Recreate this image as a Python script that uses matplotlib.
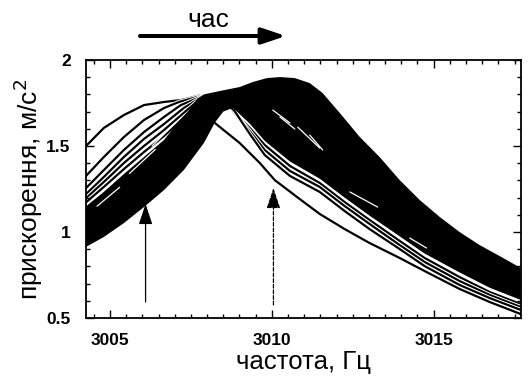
import numpy as np
import matplotlib
matplotlib.use("Agg")
import matplotlib.pyplot as plt
import matplotlib.patheffects as pe
from matplotlib.ticker import MultipleLocator

plt.rcParams['font.family'] = ['Liberation Sans', 'DejaVu Sans']

# --- data (frequency in Hz, acceleration in m/s^2) ---

# dense band of curves: top edge and bottom edge
band_top_f = [3004.20, 3004.81, 3005.43, 3006.05, 3006.67, 3007.05, 3007.40, 3007.70,
              3007.90, 3008.40, 3009.01, 3009.41, 3009.85, 3010.25, 3010.71, 3011.17,
              3011.57, 3012.10, 3012.72, 3013.33, 3013.95, 3014.57, 3015.19, 3015.80,
              3016.42, 3017.04, 3017.69]
band_top_a = [1.140, 1.233, 1.337, 1.436, 1.535, 1.625, 1.700, 1.775,
              1.800, 1.820, 1.843, 1.872, 1.895, 1.901, 1.895, 1.866,
              1.808, 1.692, 1.552, 1.436, 1.302, 1.186, 1.087, 1.000,
              0.924, 0.860, 0.791]
band_bot_f = [3004.20, 3004.81, 3005.43, 3006.05, 3006.67, 3007.28, 3007.90, 3008.24,
              3008.50, 3008.80, 3009.32, 3009.78, 3010.56, 3011.48, 3012.25, 3013.02,
              3013.95, 3014.72, 3015.80, 3016.73, 3017.69]
band_bot_a = [0.907, 0.971, 1.052, 1.145, 1.244, 1.360, 1.517, 1.636,
              1.700, 1.722, 1.630, 1.530, 1.410, 1.310, 1.200, 1.095,
              0.975, 0.875, 0.765, 0.676, 0.605]

# separate early curves on the left
left_f = [3004.20, 3004.81, 3005.43, 3006.05, 3006.67]
curve_a_f = [3004.26, 3004.81, 3005.43, 3006.05, 3006.67, 3007.19, 3007.80]
curve_a = [1.500, 1.605, 1.680, 1.738, 1.756, 1.767, 1.795]
curve_b_f = left_f + [3007.13, 3007.80]
curve_b = [1.314, 1.436, 1.552, 1.651, 1.721, 1.756, 1.790]
curve_c_f = left_f + [3007.19, 3007.80]
curve_c = [1.244, 1.360, 1.477, 1.581, 1.669, 1.738, 1.785]
curve_d_f = left_f + [3007.28, 3007.80]
curve_d = [1.209, 1.320, 1.436, 1.541, 1.628, 1.721, 1.780]
curve_e_f = left_f + [3007.38, 3007.80]
curve_e = [1.186, 1.291, 1.401, 1.500, 1.593, 1.709, 1.775]
curve_f_f = left_f + [3007.47, 3007.80]
curve_f = [1.163, 1.262, 1.366, 1.465, 1.558, 1.698, 1.770]

# separate curves on the right
right_f = [3009.32, 3009.78, 3010.56, 3011.48, 3012.25, 3013.02, 3013.95,
           3014.72, 3015.80, 3016.73, 3017.69]
curve_r1_f = [3008.20, 3008.64] + right_f
curve_r1 = [1.800, 1.733, 1.605, 1.506, 1.384, 1.285, 1.174, 1.070, 0.948, 0.849, 0.738, 0.651, 0.581]
curve_r2_f = [3008.20, 3008.73] + right_f
curve_r2 = [1.800, 1.721, 1.587, 1.477, 1.355, 1.262, 1.151, 1.047, 0.924, 0.826, 0.715, 0.634, 0.564]
curve_r3_f = [3008.20, 3008.83] + right_f
curve_r3 = [1.800, 1.709, 1.570, 1.448, 1.326, 1.233, 1.122, 1.017, 0.901, 0.802, 0.692, 0.616, 0.547]
curve_z_f = [3007.70, 3008.24, 3009.01, 3009.63, 3010.09, 3010.86, 3011.48, 3012.25,
             3013.02, 3013.95, 3014.72, 3015.80, 3016.73, 3017.69]
curve_z = [1.740, 1.634, 1.517, 1.401, 1.302, 1.192, 1.105, 1.017,
           0.936, 0.849, 0.773, 0.669, 0.593, 0.523]

# light gaps inside the band
gaps_f = [(3010.03, 3010.56), (3010.25, 3010.71), (3011.17, 3011.57),
          (3010.80, 3011.48), (3012.41, 3013.27), (3014.26, 3014.78),
          (3006.30, 3007.05), (3005.60, 3006.40), (3004.60, 3005.30)]
gaps_a = [(1.709, 1.634), (1.669, 1.599), (1.564, 1.477),
          (1.610, 1.488), (1.233, 1.145), (0.965, 0.907),
          (1.500, 1.640), (1.340, 1.480), (1.150, 1.260)]

# vertical marker arrows
marker_f = [3006.1, 3010.05]
marker_from = [0.593, 0.576]
marker_to = [1.163, 1.256]
marker_style = ['-', (0, (3, 1.5))]

fig = plt.figure(figsize=(5.29, 3.83), dpi=100)
ax = fig.add_axes([0.1626, 0.1697, 0.8224, 0.6736])

border = [pe.Stroke(linewidth=3.0, foreground='white'), pe.Normal()]
curves = [(curve_a_f, curve_a), (curve_b_f, curve_b), (curve_c_f, curve_c),
          (curve_d_f, curve_d), (curve_e_f, curve_e), (curve_f_f, curve_f),
          (curve_r1_f, curve_r1), (curve_r2_f, curve_r2), (curve_r3_f, curve_r3),
          (curve_z_f, curve_z)]
for cf, ca in curves:
    ax.plot(cf, ca, color='black', lw=1.6, path_effects=border,
            solid_joinstyle='round', zorder=1)

ax.fill(band_top_f + band_bot_f[::-1], band_top_a + band_bot_a[::-1],
        color='black', lw=0, zorder=2)

for gf, ga in zip(gaps_f, gaps_a):
    ax.plot(gf, ga, color='white', lw=0.9, solid_capstyle='round', zorder=3)

for mf, y0, y1, ls in zip(marker_f, marker_from, marker_to, marker_style):
    ax.annotate('', xy=(mf, y1), xytext=(mf, y0),
                arrowprops=dict(arrowstyle='-|>,head_length=0.9,head_width=0.3',
                                color='black', lw=0.9, linestyle=ls,
                                mutation_scale=14, shrinkA=0, shrinkB=0),
                zorder=4)

ax.set_xlim(3004.26, 3017.7)
ax.set_ylim(0.5, 2.0)
ax.xaxis.set_major_locator(MultipleLocator(5))
ax.xaxis.set_minor_locator(MultipleLocator(0.5))
ax.yaxis.set_major_locator(MultipleLocator(0.5))
ax.yaxis.set_minor_locator(MultipleLocator(0.1))
ax.yaxis.set_major_formatter(matplotlib.ticker.FuncFormatter(lambda v, p: '%g' % v))
ax.tick_params(which='both', direction='in', top=True, right=True, width=1.0)
ax.tick_params(which='major', length=6)
ax.tick_params(which='minor', length=3)
ax.tick_params(axis='x', pad=11)
ax.tick_params(axis='y', pad=11)
for lab in ax.get_xticklabels() + ax.get_yticklabels():
    lab.set_fontweight('bold')
    lab.set_fontsize(12.5)
for s in ax.spines.values():
    s.set_linewidth(1.3)
    s.set_zorder(5)

ax.set_xlabel('частота, Гц', fontsize=18.5, labelpad=1)
ax.set_ylabel('прискорення, м/с$^2$', fontsize=19, labelpad=1)

fig.text(0.393, 0.9295, 'час', fontsize=19, ha='center', va='baseline')
ax.annotate('', xy=(0.5406, 0.906), xytext=(0.2647, 0.906),
            xycoords='figure fraction', textcoords='figure fraction',
            arrowprops=dict(arrowstyle='-|>,head_length=0.9,head_width=0.3',
                            color='black', lw=2.9, mutation_scale=16,
                            shrinkA=0, shrinkB=0))

fig.savefig('out.png', dpi=100)
